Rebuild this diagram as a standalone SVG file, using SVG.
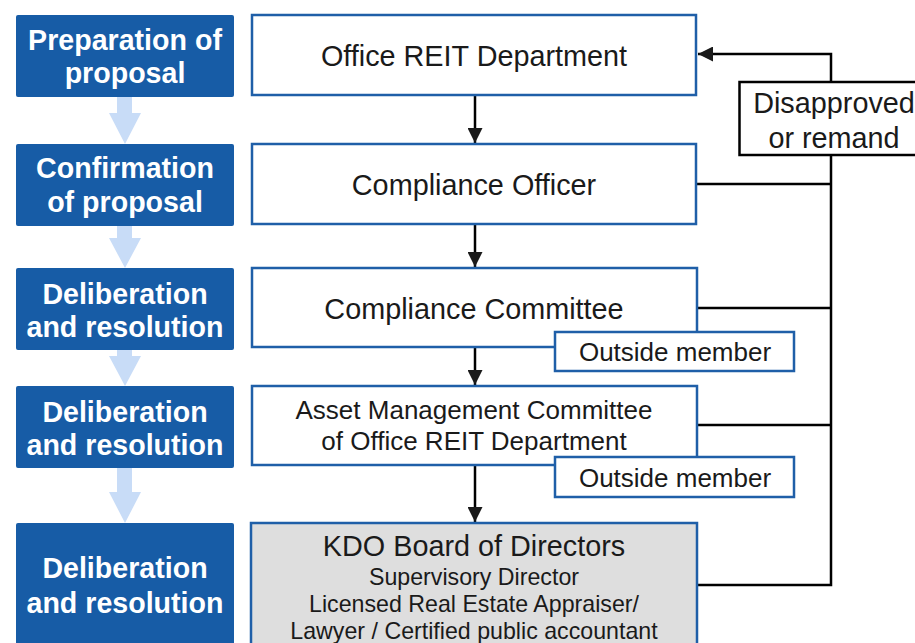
<svg xmlns="http://www.w3.org/2000/svg" width="915" height="643" viewBox="0 0 915 643">
<style>
.step{fill:#175ca6;}
.st{font-family:"Liberation Sans",Arial,sans-serif;font-weight:bold;font-size:28.6px;fill:#fff;text-anchor:middle;}
.box{fill:#fff;stroke:#1f5fa8;stroke-width:2.5;}
.gbox{fill:#dedede;stroke:#1f5fa8;stroke-width:2.5;}
.t{font-family:"Liberation Sans",Arial,sans-serif;font-size:28.8px;fill:#1a1a1a;text-anchor:middle;}
.ts{font-family:"Liberation Sans",Arial,sans-serif;font-size:23.2px;fill:#1a1a1a;text-anchor:middle;}
.tm{font-family:"Liberation Sans",Arial,sans-serif;font-size:26px;fill:#1a1a1a;text-anchor:middle;}
.ln{fill:none;stroke:#000;stroke-width:2.5;}
.la{fill:#c8dcf7;}
</style>
<defs>
<marker id="ah" viewBox="0 0 10 10" refX="10" refY="5" markerWidth="6" markerHeight="6" markerUnits="strokeWidth" orient="auto">
<path d="M0,0 L10,5 L0,10 Z" fill="#1a1a1a"/>
</marker>
</defs>
<g id="steps">
<g id="step1"><rect class="step" x="16" y="15" width="218" height="82" rx="2"/><text class="st" x="125" y="50">Preparation of</text><text class="st" x="125" y="83">proposal</text></g>
<g id="step2"><rect class="step" x="16" y="144" width="218" height="82" rx="2"/><text class="st" x="125" y="178">Confirmation</text><text class="st" x="125" y="212">of proposal</text></g>
<g id="step3"><rect class="step" x="16" y="268" width="218" height="82" rx="2"/><text class="st" x="125" y="304">Deliberation</text><text class="st" x="125" y="337">and resolution</text></g>
<g id="step4"><rect class="step" x="16" y="386" width="218" height="82" rx="2"/><text class="st" x="125" y="422">Deliberation</text><text class="st" x="125" y="455">and resolution</text></g>
<g id="step5"><rect class="step" x="16" y="523" width="218" height="130" rx="2"/><text class="st" x="125" y="578">Deliberation</text><text class="st" x="125" y="613">and resolution</text></g>
</g>
<g id="flow-arrows">
<path class="la" d="M117,97 H132 V113 H141 L125,144 L109,113 H117 Z"/>
<path class="la" d="M117,226 H132 V238 H141 L125,268 L109,238 H117 Z"/>
<path class="la" d="M117,350 H132 V356 H141 L125,386 L109,356 H117 Z"/>
<path class="la" d="M117,468 H132 V492 H141 L125,523 L109,492 H117 Z"/>
</g>
<g id="connectors">
<line class="ln" x1="475" y1="95" x2="475" y2="143" marker-end="url(#ah)"/>
<line class="ln" x1="475" y1="224" x2="475" y2="267" marker-end="url(#ah)"/>
<line class="ln" x1="475" y1="347" x2="475" y2="385" marker-end="url(#ah)"/>
<line class="ln" x1="475" y1="465" x2="475" y2="522" marker-end="url(#ah)"/>
<polyline class="ln" points="831,82 831,54 698,54" marker-end="url(#ah)"/>
<polyline class="ln" points="696,184 831,184"/>
<polyline class="ln" points="697,308 831,308"/>
<polyline class="ln" points="697,425 831,425"/>
<polyline class="ln" points="697,585 831,585 831,155"/>
</g>
<g id="office-reit"><rect class="box" x="252" y="15" width="444" height="80"/><text class="t" x="474" y="66">Office REIT Department</text></g>
<g id="compliance-officer"><rect class="box" x="252" y="144" width="444" height="80"/><text class="t" x="474" y="195">Compliance Officer</text></g>
<g id="compliance-committee"><rect class="box" x="252" y="268" width="445" height="79"/><text class="t" x="474" y="319">Compliance Committee</text></g>
<g id="outside-member-1"><rect class="box" x="555" y="332" width="239" height="39"/><text class="tm" x="675" y="361">Outside member</text></g>
<g id="asset-mgmt"><rect class="box" x="252" y="386" width="445" height="79"/><text class="tm" x="474" y="419">Asset Management Committee</text><text class="tm" x="474" y="450">of Office REIT Department</text></g>
<g id="outside-member-2"><rect class="box" x="555" y="457" width="239" height="40"/><text class="tm" x="675" y="487">Outside member</text></g>
<g id="kdo-board"><rect class="gbox" x="251" y="523" width="446" height="130"/><text class="t" x="474" y="556">KDO Board of Directors</text><text class="ts" x="474" y="585">Supervisory Director</text><text class="ts" x="474" y="612">Licensed Real Estate Appraiser/</text><text class="ts" x="474" y="639">Lawyer / Certified public accountant</text></g>
<g id="disapproved"><rect x="739.5" y="82" width="180" height="73" fill="#fff" stroke="#000" stroke-width="2.5"/><text class="t" x="834" y="113">Disapproved</text><text class="t" x="834" y="148">or remand</text></g>
</svg>
